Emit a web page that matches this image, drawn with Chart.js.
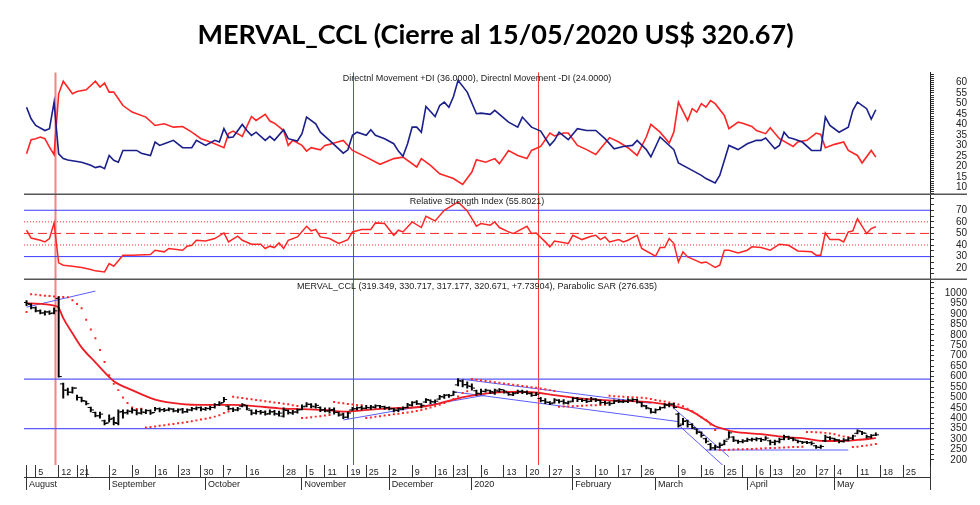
<!DOCTYPE html>
<html>
<head>
<meta charset="utf-8">
<script src="https://cdn.jsdelivr.net/npm/chart.js@4.4.1/dist/chart.umd.min.js"></script>
<style>
  html, body { margin: 0; padding: 0; background: #fff; }
  #wrap { width: 980px; height: 505px; }
</style>
</head>
<body>
<div id="wrap"><canvas id="chart" width="980" height="505"></canvas></div>
<script>
// Eje X: índice de rueda (0 = 1/8/2019, 185 = 15/5/2020)
const dayTicks = [[0,''],[2,'5'],[7,'12'],[11,'21'],[13,''],[18,'2'],[23,'9'],[28,'16'],[33,'23'],[38,'30'],[43,'7'],[48,'16'],
  [56,'28'],[61,'5'],[65,'11'],[70,'19'],[74,'25'],[79,'2'],[84,'9'],[89,'16'],[93,'23'],[96,''],[99,'6'],[104,'13'],
  [109,'20'],[114,'27'],[119,'3'],[124,'10'],[129,'17'],[134,'26'],[142,'9'],[147,'16'],[152,'25'],[156,''],[159,'6'],
  [162,'13'],[167,'20'],[172,'27'],[176,'4'],[181,'11'],[186,'18'],[191,'25']];
const monthTicks = [[0,'August'],[18,'September'],[39,'October'],[60,'November'],[79,'December'],[97,'2020'],
  [119,'February'],[137,'March'],[157,'April'],[176,'May']];

// Etiquetas de los ejes Y
const dmiLabels = [10,15,20,25,30,35,40,45,50,55,60];
const rsiLabels = [20,30,40,50,60,70];
const pxLabels = [200,250,300,350,400,450,500,550,600,650,700,750,800,850,900,950,1000];

// OHLC diario
const openPx = [955,945,930,915,905,910,905,975,565,535, 525,545,500,482,452,428,412,388,378,400,
  375,432,428,432,438,425,428,436,428,446, 442,440,444,436,444,432,440,446,452,442,
  446,452,465,475,458,446,440,458,460,438, 425,432,430,422,432,420,410,438,425,430,
  442,458,466,455,452,440,435,442,428,420, 405,440,446,452,448,450,452,460,456,452,
  446,438,444,452,462,478,468,478,486,478, 492,502,512,510,560,578,562,552,532,518,
  528,532,522,530,536,522,512,522,530,526, 518,510,495,484,476,474,486,482,472,482,
  495,490,486,482,492,485,476,474,472,484, 478,480,486,490,475,458,446,428,442,452,
  462,468,420,372,388,370,348,332,302,275, 258,262,275,300,310,292,288,292,296,298,
  302,296,292,285,288,300,312,304,294,288, 286,284,268,260,292,308,302,295,288,296,
  305,328,336,328,310,319.349];
const highPx = [965,950,935,920,915,915,930,982,569,545, 550,511,502,483,454,430,430,392,416,406,
  440,440,440,449,440,445,442,440,452,450, 448,450,446,445,448,445,452,455,455,452,
  458,470,480,500,460,450,452,470,462,440, 440,438,436,440,438,435,450,440,438,445,
  465,475,470,470,455,450,450,450,430,425, 430,452,455,458,462,462,465,462,458,455,
  448,450,455,472,480,485,470,495,488,488, 510,515,515,530,590,585,575,565,535,540,
  540,535,540,542,535,525,525,535,535,532, 525,525,500,495,480,495,490,490,482,500,
  500,495,495,500,495,488,482,480,488,490, 488,495,495,492,478,462,448,445,455,470,
  472,472,425,400,392,375,350,335,305,280, 272,282,296,336,312,296,298,305,305,308,
  305,312,296,296,305,320,315,308,296,290, 290,288,270,272,320,312,305,298,303,308,
  320,345,338,320,322,330.717];
const lowPx = [940,925,910,900,895,898,900,597,497,511, 521,487,478,464,430,406,401,368,382,368,
  368,401,420,425,416,420,422,418,435,430, 432,435,430,428,425,428,435,440,435,438,
  440,448,460,478,440,432,435,455,440,416, 420,420,415,418,415,410,405,420,418,425,
  440,455,450,448,432,430,425,420,410,398, 401,438,440,440,445,442,448,448,442,440,
  430,432,440,450,458,465,450,475,470,472, 490,495,500,510,555,550,545,535,510,515,
  525,518,515,525,520,510,508,518,518,515, 505,508,478,470,465,472,472,468,468,478,
  480,480,475,480,480,468,468,462,470,475, 475,475,480,472,454,445,425,425,440,448,
  455,448,358,368,358,350,325,310,282,248, 248,258,272,305,288,280,282,288,290,292,
  288,295,272,272,282,296,298,292,282,278, 278,272,255,255,288,296,290,282,285,292,
  298,325,322,305,305,317.177];
const closePx = [950,930,915,905,910,902,915,600,535,525, 545,500,485,470,440,412,420,375,395,380,
  430,425,435,440,425,430,438,425,445,440, 438,445,435,440,430,440,446,450,445,448,
  452,465,472,490,445,440,445,465,445,425, 432,428,420,430,422,425,440,428,430,440,
  455,468,458,462,440,435,438,428,415,405, 425,445,450,448,452,455,460,455,450,445,
  440,445,450,465,475,470,462,490,480,482, 505,510,508,525,580,560,555,545,520,530,
  535,528,535,538,530,515,518,528,525,520, 510,515,485,478,470,488,480,475,478,495,
  490,485,480,492,488,475,472,470,482,480, 482,488,490,478,462,450,430,440,450,465,
  468,452,365,385,370,355,335,318,290,258, 262,270,290,330,295,288,290,298,300,302,
  298,305,285,290,298,312,305,300,290,285, 282,280,262,265,310,305,298,290,295,305,
  315,340,330,312,318,320.671];

// Parabolic SAR diario
const sarPx = [910,995,993,990,988,986,984,982,982,980, 966,948,928,872,826,784,727,670,607,565,
  535,500,473,452,445,446,356,358,361,364, 367,370,373,376,379,382,386,390,394,398,
  403,408,415,425,432,503,500,497,494,491, 488,485,482,479,476,473,470,467,463,459,
  401,403,405,408,410,413,416,478,475,472, 469,466,464,462,401,404,407,410,413,416,
  419,422,425,428,431,435,440,446,452,458, 465,473,482,492,505,521,530,588,585,582,
  579,576,573,570,567,564,561,558,555,552, 549,546,543,539,535,531,455,456,457,458,
  459,460,461,462,463,464,465,508,506,504, 503,502,501,500,499,496,492,488,484,480,
  476,472,466,458,446,434,420,405,392,370, 344,248,248,249,250,251,252,253,253,254,
  255,256,257,258,259,260,261,262,262,263, 334,334,333,332,330,327,323,318,313,310,
  262,264,267,270,273,276.635];

// Media móvil (roja)
const maPx = [[0,952],[6,940],[7,930],[8,880],[10,808],[12,740],[15,668],[18,598],[19,578],[23,535],[28,490],
  [34,468],[38,464],[45,464],[49,460],[55,448],[60,444],[65,440],[69,432],[72,436],[75,442],[79,448],[85,453],
  [88,462],[90,472],[93,490],[96,505],[98,512],[100,518],[104,526],[109,526],[115,511],[120,497],[125,488],
  [130,483],[134,480],[137,474],[141,459],[145,432],[148,390],[150,362],[152,348],[154,336],[160,324],
  [165,310],[169,305],[173,292],[177,291],[181,296],[185,305]];

// Directional Movement
const plusDI = [[0,48.2],[1,42.7],[2,39.5],[4,37.1],[5,38],[6,50.6],[7,26],[8,23.7],[9,23],[12,22],[14,20.5],
  [15,19.4],[16,20],[17,18.9],[18,25.2],[19,22.9],[20,22],[21,27.6],[24,27.6],[25,26.3],[27,25.2],[28,31.6],
  [29,30],[30,30.8],[32,32.4],[34,28.9],[36,28.9],[37,32.4],[39,30],[41,32.4],[42,31.6],[43,38],[44,33.7],
  [45,34],[47,40],[48,37.1],[49,34.8],[50,36.3],[52,32.4],[53,34.3],[54,32.4],[56,37.5],[57,33.2],[59,32.1],
  [60,35.6],[61,43.5],[63,40.3],[64,36.3],[66,32.4],[69,26.3],[70,27.9],[71,34.8],[72,36.3],[74,34.8],
  [75,37.5],[76,34.8],[78,33.2],[80,30.8],[81,27.3],[82,24.8],[83,30.8],[84,38.7],[85,38.7],[86,36.3],
  [87,48.6],[89,43.8],[90,49],[91,50.6],[92,48.2],[93,53.3],[94,61],[96,55.4],[98,45.1],[99,45.4],[101,44.8],
  [102,46.7],[105,41.1],[107,38.7],[108,43.5],[110,38.7],[112,36.8],[114,30],[115,32.4],[116,36.3],
  [118,32.7],[120,38],[122,37.1],[124,37.1],[126,33.2],[128,28.4],[130,29.5],[132,30],[133,32.4],[135,28],
  [136,24.6],[138,34],[141,28],[142,21.6],[145,18.1],[147,15.7],[148,14.2],[150,12.1],[151,15.7],[153,30],
  [155,28],[157,30.8],[159,32.4],[160,32.4],[161,33.5],[163,28.4],[164,30],[165,36.3],[166,33.7],[167,33.2],
  [169,31.6],[171,27.6],[173,27.6],[174,43.5],[175,39.5],[177,36.3],[179,38.7],[180,46.7],[181,50.6],
  [183,47.5],[184,42.5],[185,47]];
const minusDI = [[0,26],[1,32.7],[2,33.2],[3,34],[4,33.2],[5,29.2],[6,25.6],[7,54.6],[8,60.6],[10,54.6],
  [11,55.7],[13,56.5],[15,60.6],[16,57.8],[17,59.7],[18,55.4],[19,55.4],[21,49],[23,45.9],[26,43.5],[28,39.5],
  [30,40.3],[32,38.7],[34,39],[36,36.3],[38,33.2],[39,32.4],[41,30.8],[43,28.9],[44,35.6],[45,36.8],[47,34.3],
  [49,43.8],[50,41.9],[52,44.8],[53,41.6],[54,40.6],[56,37.1],[57,30],[58,32.4],[60,30],[61,27.3],[62,28.9],
  [64,27.9],[65,30],[66,30.5],[67,31.1],[69,32.4],[71,27.6],[74,24.4],[77,21],[80,23.7],[82,24.4],[85,19.7],
  [86,23.7],[88,20.5],[90,16.5],[93,14.2],[95,11.4],[97,17.3],[98,23.2],[100,22],[102,23.7],[103,21.3],
  [105,27.6],[107,25.2],[109,23.7],[110,27.6],[112,29.5],[114,35.9],[115,34.5],[117,35.9],[118,35.9],
  [120,30],[122,28],[124,25.7],[125,28.4],[127,33.7],[129,31.6],[131,28.9],[133,25.2],[135,34],[136,40],
  [138,36.3],[140,31.1],[141,36.3],[142,50.6],[144,41.9],[145,47.5],[146,45.9],[147,49.9],[148,48.2],
  [149,51.4],[150,49.9],[152,44.3],[153,38],[155,41.1],[156,40.6],[158,39],[159,37.1],[161,35.6],[162,38.4],
  [164,33.2],[167,29.5],[168,31.6],[170,32.4],[172,35.9],[173,35.2],[174,28.9],[176,30.5],[178,31.6],
  [179,27.6],[181,25.2],[182,21.6],[184,27.6],[185,24.4]];

// RSI
const rsi = [[0,52.8],[1,46],[3,44.1],[4,42.7],[5,45.6],[6,59.1],[7,24.6],[8,22.6],[10,21.7],[12,20.6],
  [14,18.9],[15,17.7],[17,16.8],[18,24],[19,21.7],[21,31.2],[23,31.2],[27,31.8],[28,35.5],[30,34.1],[31,37],
  [34,35.5],[35,39],[36,39.8],[37,44.1],[39,43.5],[41,45.6],[43,50.4],[44,42.7],[46,47.6],[47,44.1],[49,40.7],
  [51,40.7],[52,37],[53,39],[54,37.8],[55,41.8],[56,37],[57,44.1],[59,47],[61,56.2],[62,52.2],[63,53.4],
  [64,47],[66,45.6],[68,41.3],[70,44.7],[71,51.3],[73,53.4],[75,53.4],[76,59.1],[78,58.5],[79,53.4],
  [80,48.4],[81,52.8],[82,51.3],[84,59.9],[86,55.1],[87,64.8],[89,60.8],[91,70],[94,77.2],[96,69.4],
  [98,56.2],[99,58.5],[101,57.1],[102,59.9],[103,55.1],[105,51.3],[106,49.9],[109,56.2],[110,49.9],
  [111,50.4],[113,42.7],[114,38.4],[115,43.5],[118,41.3],[119,48.4],[121,44.7],[123,47.6],[124,48.4],
  [125,44.7],[126,47],[127,42.7],[129,44.7],[130,42.7],[131,44.1],[133,48.4],[134,37],[137,30.3],[138,37.8],
  [139,37.8],[140,45.6],[141,41.3],[142,25.4],[143,34.1],[144,29.7],[146,26.3],[147,24.6],[148,25.4],
  [150,20.6],[151,22.6],[152,35.5],[153,35.5],[155,33.2],[157,35.5],[158,38.4],[160,37.8],[162,35.5],
  [164,40.7],[166,39.8],[168,34.9],[171,34.1],[172,31.2],[173,31.2],[174,50.4],[175,44.7],[177,44.7],
  [178,42.7],[179,51.3],[180,52.2],[181,62.8],[183,49.9],[184,54.2],[185,55.8]];
const rsiBands = [70, 30];
const rsiDotted = [60, 40];
const rsiMid = [50];

// Soportes / resistencias y líneas de tendencia
const priceLevels = [588, 350];
const trendLines = [
  [[0,933],[15,1010]],
  [[69,392],[100,511]],
  [[95,587],[136,472]],
  [[93,527],[142,384]],
  [[141,448],[153,216]],
  [[142,368],[152,168]],
  [[148,248],[179,248]]
];
const markerDays = [6.2, 71.2, 111.4];

// ---------- configuración ----------
const X_MIN = -0.55, X_MAX = 196.8;
const RED = '#ff2626', NAVY = '#1b1f8a';
const markerStyles = [
  { color: 'rgba(240,90,90,0.75)', width: 2 },
  { color: '#5050ff', width: 1 },
  { color: '#ff3a3a', width: 1 }
];

Chart.defaults.font.family = '"Liberation Sans", Arial, sans-serif';
Chart.defaults.color = '#222';

const pts = arr => arr.map(p => ({ x: p[0], y: p[1] }));
const flat = (v) => [{ x: X_MIN, y: v }, { x: X_MAX, y: v }];
const ruler = (from, to, step) => scale => {
  const t = [];
  for (let v = from; v <= to; v += step) t.push({ value: v });
  scale.ticks = t;
};
const idx = closePx.map((_, i) => i);

const datasets = [];
// OHLC
datasets.push({
  type: 'bar', label: 'hl', yAxisID: 'yPx',
  data: idx.map(i => ({ x: i, y: [lowPx[i], highPx[i]] })),
  backgroundColor: '#000', barThickness: 1.3, grouped: false
});
datasets.push({
  type: 'line', yAxisID: 'yPx', showLine: false,
  data: idx.map(i => ({ x: i - 0.35, y: openPx[i] })),
  pointStyle: 'line', pointRadius: 1.6, pointBorderWidth: 1, pointBorderColor: '#000'
});
datasets.push({
  type: 'line', yAxisID: 'yPx', showLine: false,
  data: idx.map(i => ({ x: i + 0.35, y: closePx[i] })),
  pointStyle: 'line', pointRadius: 1.6, pointBorderWidth: 1, pointBorderColor: '#000'
});
// SAR
datasets.push({
  type: 'line', yAxisID: 'yPx', showLine: false,
  data: idx.map(i => ({ x: i, y: sarPx[i] })),
  pointStyle: 'rect', pointRadius: 1.4, pointBorderWidth: 0, pointBackgroundColor: RED
});
// MA
datasets.push({
  type: 'line', yAxisID: 'yPx', data: pts(maPx), borderColor: '#ee1c24', borderWidth: 1.8,
  pointRadius: 0, cubicInterpolationMode: 'monotone'
});
// niveles y tendencias
priceLevels.forEach(v => datasets.push({
  type: 'line', yAxisID: 'yPx', data: flat(v), borderColor: '#5a5aff', borderWidth: 1.2, pointRadius: 0
}));
trendLines.forEach(t => datasets.push({
  type: 'line', yAxisID: 'yPx', data: pts(t), borderColor: '#5c5cff', borderWidth: 1, pointRadius: 0
}));
// DMI
datasets.push({ type: 'line', yAxisID: 'yDmi', data: pts(plusDI), borderColor: NAVY, borderWidth: 1.6, pointRadius: 0 });
datasets.push({ type: 'line', yAxisID: 'yDmi', data: pts(minusDI), borderColor: RED, borderWidth: 1.6, pointRadius: 0 });
// RSI
datasets.push({ type: 'line', yAxisID: 'yRsi', data: pts(rsi), borderColor: RED, borderWidth: 1.5, pointRadius: 0 });
rsiBands.forEach(v => datasets.push({
  type: 'line', yAxisID: 'yRsi', data: flat(v), borderColor: '#3c3cff', borderWidth: 1, pointRadius: 0
}));
rsiDotted.forEach(v => datasets.push({
  type: 'line', yAxisID: 'yRsi', data: flat(v), borderColor: RED, borderWidth: 1, borderDash: [1, 2], pointRadius: 0
}));
rsiMid.forEach(v => datasets.push({
  type: 'line', yAxisID: 'yRsi', data: flat(v), borderColor: RED, borderWidth: 1, borderDash: [9, 5], pointRadius: 0
}));

// marcas verticales, separadores y subtítulos de panel
const panelDecor = {
  id: 'panelDecor',
  beforeDatasetsDraw(chart) {
    const { ctx, chartArea, scales } = chart;
    ctx.save();
    markerDays.forEach((d, k) => {
      const px = Math.round(scales.x.getPixelForValue(d)) + 0.5;
      ctx.strokeStyle = markerStyles[k].color;
      ctx.lineWidth = markerStyles[k].width;
      ctx.beginPath();
      ctx.moveTo(px, chartArea.top);
      ctx.lineTo(px, chartArea.bottom);
      ctx.stroke();
    });
    ctx.restore();
  },
  afterDraw(chart) {
    const { ctx, chartArea, scales } = chart;
    ctx.save();
    ctx.strokeStyle = '#555';
    ctx.lineWidth = 1.5;
    [scales.yDmi.bottom, scales.yRsi.bottom].forEach(y => {
      ctx.beginPath();
      ctx.moveTo(chartArea.left, y);
      ctx.lineTo(chart.width - 13, y);
      ctx.stroke();
    });
    const cx = (chartArea.left + chartArea.right) / 2;
    ctx.fillStyle = '#222';
    ctx.font = '9px "Liberation Sans", Arial, sans-serif';
    ctx.textAlign = 'center';
    ctx.textBaseline = 'middle';
    ctx.fillText('Directnl Movement +DI (36.0000), Directnl Movement -DI (24.0000)', cx, scales.yDmi.top + 6);
    ctx.fillText('Relative Strength Index (55.8021)', cx, scales.yRsi.top + 7);
    ctx.fillText('MERVAL_CCL (319.349, 330.717, 317.177, 320.671, +7.73904), Parabolic SAR (276.635)', cx, scales.yPx.top + 7);
    ctx.restore();
  }
};

const yAxis = (weight, min, max, tickGen, labels, pad) => ({
  type: 'linear', position: 'right', stack: 'panels', stackWeight: weight, min, max,
  afterBuildTicks: tickGen,
  afterFit: s => { s.width = 37; },
  border: { display: true, color: '#222', width: 1 },
  grid: { drawOnChartArea: false, tickLength: 4, color: '#333' },
  ticks: {
    autoSkip: false, padding: pad, crossAlign: 'far', font: { size: 10 }, color: '#222',
    callback: v => labels.includes(v) ? String(v) : ''
  }
});

new Chart(document.getElementById('chart'), {
  type: 'line',
  data: { datasets },
  options: {
    responsive: false,
    animation: false,
    events: [],
    layout: { padding: { left: 24, right: 13, top: 0, bottom: 13 } },
    plugins: {
      legend: { display: false },
      tooltip: { enabled: false },
      title: {
        display: true,
        text: 'MERVAL_CCL (Cierre al 15/05/2020 US$ 320.67)',
        color: '#000',
        font: { family: 'Lato', size: 27, weight: 'bold' },
        padding: { top: 19, bottom: 21 }
      }
    },
    scales: {
      x: {
        type: 'linear', position: 'bottom', min: X_MIN, max: X_MAX, offset: false,
        afterBuildTicks: s => { s.ticks = dayTicks.map(t => ({ value: t[0] })).concat([{ value: X_MAX }]); },
        afterFit: s => { s.height = 12; },
        border: { display: false },
        grid: { offset: false, drawOnChartArea: false, tickLength: 12, color: '#333' },
        ticks: {
          autoSkip: false, maxRotation: 0, align: 'start', padding: -10, font: { size: 9 },
          callback: (v, i) => dayTicks[i] ? ' ' + dayTicks[i][1] : ''
        }
      },
      xMonth: {
        type: 'linear', position: 'bottom', min: X_MIN, max: X_MAX, offset: false,
        afterBuildTicks: s => { s.ticks = monthTicks.map(t => ({ value: t[0] })).concat([{ value: X_MAX }]); },
        afterFit: s => { s.height = 15; },
        border: { display: true, color: '#333' },
        grid: { offset: false, drawOnChartArea: false, tickLength: 13, color: '#333' },
        ticks: {
          autoSkip: false, maxRotation: 0, align: 'start', padding: -11, font: { size: 9 },
          callback: (v, i) => monthTicks[i] ? ' ' + monthTicks[i][1] : ''
        }
      },
      yDmi: yAxis(122, 6.7, 64.8, ruler(7, 64, 1), dmiLabels, 18),
      yRsi: yAxis(85, 10.5, 83.8, ruler(15, 80, 5), rsiLabels, 18),
      yPx: yAxis(186, 176, 1067, ruler(200, 1050, 25), pxLabels, 7)
    }
  },
  plugins: [panelDecor]
});
</script>
</body>
</html>
